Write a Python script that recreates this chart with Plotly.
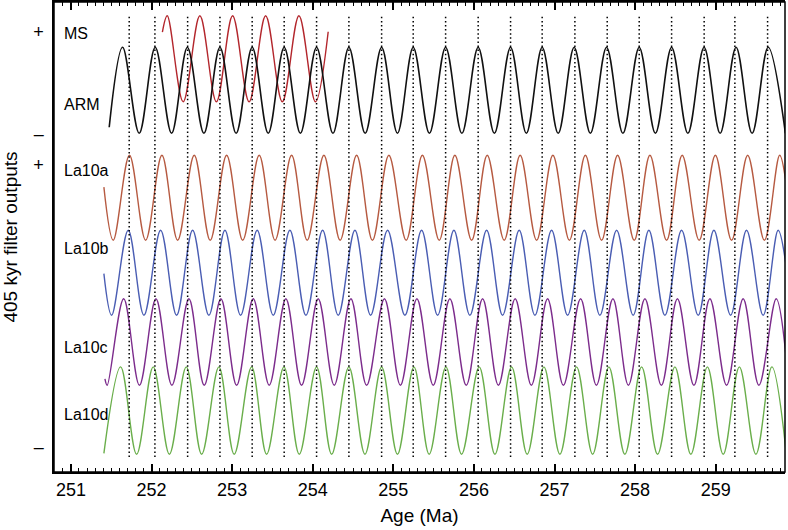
import plotly.graph_objects as go

# ---------------- data ----------------
# vertical dotted reference lines (Ma)
ref_lines = [251.723, 252.042, 252.448, 252.849, 253.249, 253.646, 254.048, 254.449,
             254.855, 255.247, 255.649, 256.053, 256.455, 256.847, 257.253, 257.654,
             258.051, 258.453, 258.857, 259.238, 259.644]

# 405 kyr filter outputs: ages of start, successive extremes and end, with normalised values
ms_age = [252.135, 252.195, 252.393, 252.600, 252.805, 253.006, 253.211, 253.416,
          253.623, 253.829, 254.034, 254.192]
ms_val = [0.62, 1, -1, 1, -1, 1, -1, 1, -1, 1, -1, 0.63]

arm_age = [251.475, 251.641, 251.847, 252.046, 252.249, 252.445, 252.650, 252.849,
           253.050, 253.249, 253.448, 253.646, 253.847, 254.048, 254.251, 254.449,
           254.651, 254.855, 255.051, 255.247, 255.448, 255.649, 255.851, 256.053,
           256.254, 256.455, 256.651, 256.847, 257.046, 257.244, 257.445, 257.646,
           257.849, 258.051, 258.252, 258.453, 258.655, 258.856, 259.055, 259.253,
           259.452, 259.651, 259.865]
arm_val = [-0.86, 1, -1, 1, -1, 1, -1, 1, -1, 1, -1, 1, -1, 1, -1, 1, -1, 1, -1, 1, -1,
           1, -1, 1, -1, 1, -1, 1, -1, 1, -1, 1, -1, 1, -1, 1, -1, 1, -1, 1, -1, 1, -1]

la10a_age = [251.409, 251.525, 251.726, 251.927, 252.129, 252.324, 252.530, 252.728,
             252.932, 253.132, 253.336, 253.533, 253.738, 253.931, 254.139, 254.340,
             254.545, 254.741, 254.945, 255.160, 255.361, 255.570, 255.764, 255.972,
             256.165, 256.376, 256.574, 256.778, 256.980, 257.185, 257.383, 257.584,
             257.783, 257.989, 258.184, 258.391, 258.584, 258.795, 258.996, 259.197,
             259.397, 259.604, 259.794, 259.871]
la10a_val = [0.25, -1, 1, -1, 1, -1, 1, -1, 1, -1, 1, -1, 1, -1, 1, -1, 1, -1, 1, -1, 1,
             -1, 1, -1, 1, -1, 1, -1, 1, -1, 1, -1, 1, -1, 1, -1, 1, -1, 1, -1, 1, -1, 1, 0.37]

la10b_age = [251.409, 251.505, 251.711, 251.906, 252.113, 252.311, 252.510, 252.712,
             252.911, 253.105, 253.311, 253.510, 253.717, 253.916, 254.123, 254.316,
             254.524, 254.718, 254.929, 255.144, 255.351, 255.550, 255.752, 255.950,
             256.158, 256.356, 256.562, 256.757, 256.964, 257.163, 257.369, 257.563,
             257.771, 257.976, 258.171, 258.370, 258.577, 258.783, 258.978, 259.185,
             259.383, 259.589, 259.775, 259.871]
la10b_val = [-0.02, -1, 1, -1, 1, -1, 1, -1, 1, -1, 1, -1, 1, -1, 1, -1, 1, -1, 1, -1, 1,
             -1, 1, -1, 1, -1, 1, -1, 1, -1, 1, -1, 1, -1, 1, -1, 1, -1, 1, -1, 1, -1, 1, 0.2]

la10c_age = [251.422, 251.450, 251.655, 251.850, 252.055, 252.253, 252.464, 252.654,
             252.861, 253.056, 253.262, 253.460, 253.667, 253.862, 254.068, 254.267,
             254.474, 254.669, 254.890, 255.088, 255.293, 255.495, 255.702, 255.905,
             256.108, 256.304, 256.512, 256.713, 256.914, 257.110, 257.324, 257.520,
             257.725, 257.917, 258.122, 258.326, 258.525, 258.730, 258.928, 259.135,
             259.341, 259.536, 259.751, 259.871]
la10c_val = [-0.85, -1, 1, -1, 1, -1, 1, -1, 1, -1, 1, -1, 1, -1, 1, -1, 1, -1, 1, -1, 1,
             -1, 1, -1, 1, -1, 1, -1, 1, -1, 1, -1, 1, -1, 1, -1, 1, -1, 1, -1, 1, -1, 1, -0.3]

la10d_age = [251.409, 251.617, 251.815, 252.021, 252.222, 252.431, 252.622, 252.836,
             253.026, 253.242, 253.428, 253.643, 253.833, 254.048, 254.235, 254.449,
             254.648, 254.855, 255.051, 255.256, 255.445, 255.653, 255.847, 256.066,
             256.261, 256.468, 256.661, 256.869, 257.067, 257.274, 257.473, 257.675,
             257.873, 258.081, 258.279, 258.494, 258.692, 258.897, 259.093, 259.294,
             259.499, 259.697, 259.871]
la10d_val = [-0.98, 1, -1, 1, -1, 1, -1, 1, -1, 1, -1, 1, -1, 1, -1, 1, -1, 1, -1, 1, -1,
             1, -1, 1, -1, 1, -1, 1, -1, 1, -1, 1, -1, 1, -1, 1, -1, 1, -1, 1, -1, 1, -0.9]

x_ticks = [251, 252, 253, 254, 255, 256, 257, 258, 259]
sign_text = ["+", "\u2013", "+", "\u2013"]

# ---------------- layout constants (stack offsets / styles) ----------------
FONT = "Liberation Sans, Arial, Helvetica, sans-serif"
series = [
    # name, ages, values, centre, amplitude, colour, width, label y (px from figure top)
    ("MS", ms_age, ms_val, 413.2, 43.0, "#b3262c", 1.4, 33),
    ("ARM", arm_age, arm_val, 381.7, 43.0, "#111111", 1.6, 104),
    ("La10a", la10a_age, la10a_val, 274.2, 42.5, "#b65a41", 1.4, 170),
    ("La10b", la10b_age, la10b_val, 199.2, 42.5, "#4a5db3", 1.4, 248),
    ("La10c", la10c_age, la10c_val, 130.0, 43.3, "#7c2c8c", 1.4, 347),
    ("La10d", la10d_age, la10d_val, 61.4, 43.7, "#6aae4b", 1.4, 414),
]
sign_pos = [440.0, 338.4, 307.7, 25.0]

W, H = 788, 530
ML, MR, MT, MB = 54, 3, 2, 58
PH = H - MT - MB          # plot height in px; y data units = px above the bottom axis
XR = [250.79, 259.86]

fig = go.Figure()
for name, ages, vals, c, a, col, w, _ in series:
    fig.add_trace(go.Scatter(
        x=ages, y=[c + a * v for v in vals], mode="lines", name=name,
        line=dict(color=col, width=w, shape="spline", smoothing=1.0),
        showlegend=False, hoverinfo="skip", cliponaxis=True))

# invisible trace so the top (mirror) axis is drawn
fig.add_trace(go.Scatter(x=[x_ticks[0]], y=[0], xaxis="x2", mode="markers",
                         marker=dict(opacity=0), showlegend=False, hoverinfo="skip"))

for xv in ref_lines:
    fig.add_shape(type="line", xref="x", yref="y", x0=xv, x1=xv,
                  y0=H - MB - 457, y1=H - MB - 15,
                  line=dict(color="black", width=1.5, dash="1.5px,2.6px"), layer="above")

# plot frame
fig.add_shape(type="rect", xref="paper", yref="paper", x0=0, x1=1, y0=0, y1=1,
              line=dict(color="black", width=1.5), layer="above")

for name, *_rest in series:
    ly = _rest[-1]
    fig.add_annotation(text=name, xref="paper", yref="y",
                       x=(62 - ML) / (W - ML - MR), y=H - MB - ly,
                       xanchor="left", yanchor="middle", showarrow=False,
                       font=dict(family=FONT, size=16, color="black"))

minor_ticks = dict(ticks="inside", ticklen=4, tickwidth=1, dtick=0.1,
                   tick0=251, tickcolor="black", showgrid=False)

fig.update_layout(
    width=W, height=H,
    margin=dict(l=ML, r=MR, t=MT, b=MB, pad=0, autoexpand=False),
    paper_bgcolor="white", plot_bgcolor="white",
    font=dict(family=FONT, size=18, color="black"),
    xaxis=dict(range=XR, tickvals=x_ticks, ticks="inside", ticklen=8,
               tickwidth=1.5, tickcolor="black", showline=True, linewidth=1.5,
               linecolor="black", showgrid=False, zeroline=False,
               automargin=False, ticklabelstandoff=1, tickfont=dict(size=18),
               minor=minor_ticks,
               title=dict(text="Age (Ma)", font=dict(size=19), standoff=9)),
    xaxis2=dict(range=XR, overlaying="x", side="top", anchor="y", tickvals=x_ticks,
                ticks="inside", ticklen=8, tickwidth=1.5, tickcolor="black",
                showticklabels=False, showline=True, linewidth=1.5, linecolor="black",
                showgrid=False, zeroline=False, automargin=False, minor=minor_ticks),
    yaxis=dict(range=[0, PH], tickvals=sign_pos, ticktext=sign_text, ticks="",
               showline=True, linewidth=1.5, linecolor="black",
               showgrid=False, zeroline=False, automargin=False, ticklabelstandoff=5,
               tickfont=dict(size=18),
               title=dict(text="405 kyr filter outputs", font=dict(size=19), standoff=14)),
)

fig.write_html("out.html", config={"displayModeBar": False},
               post_script="document.body.style.margin='0';document.body.style.padding='0';")
